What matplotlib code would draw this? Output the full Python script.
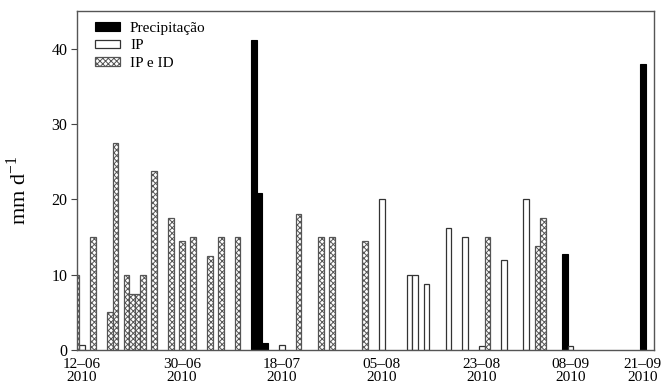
import matplotlib
matplotlib.use("Agg")
import matplotlib.pyplot as plt
import matplotlib.dates as mdates
import pandas as pd

# Data (dates in 2010, values in mm/d)
precip_dates = ["2010-07-13", "2010-07-14", "2010-07-15", "2010-09-07", "2010-09-21"]
precip_vals = [41.2, 20.9, 0.9, 12.8, 38.0]

ip_dates = ["2010-06-12", "2010-07-18", "2010-08-05", "2010-08-10", "2010-08-11",
            "2010-08-13", "2010-08-17", "2010-08-20", "2010-08-23", "2010-08-27",
            "2010-08-31", "2010-09-08"]
ip_vals = [0.6, 0.7, 20.0, 10.0, 10.0, 8.8, 16.2, 15.0, 0.5, 12.0, 20.0, 0.5]

ipid_dates = ["2010-06-11", "2010-06-14", "2010-06-17", "2010-06-18", "2010-06-20",
              "2010-06-21", "2010-06-22", "2010-06-23", "2010-06-25", "2010-06-28",
              "2010-06-30", "2010-07-02", "2010-07-05", "2010-07-07", "2010-07-10",
              "2010-07-21", "2010-07-25", "2010-07-27", "2010-08-02", "2010-08-24",
              "2010-09-02", "2010-09-03"]
ipid_vals = [10.0, 15.0, 5.0, 27.5, 10.0, 7.5, 7.5, 10.0, 23.8, 17.5,
             14.5, 15.0, 12.5, 15.0, 15.0, 18.0, 15.0, 15.0, 14.5, 15.0,
             13.8, 17.5]

tick_dates = ["2010-06-12", "2010-06-30", "2010-07-18", "2010-08-05",
              "2010-08-23", "2010-09-08", "2010-09-21"]
tick_labels = ["12\u201306\n2010", "30\u201306\n2010", "18\u201307\n2010",
               "05\u201308\n2010", "23\u201308\n2010", "08\u201309\n2010",
               "21\u201309\n2010"]

plt.rcParams['font.family'] = ['Liberation Serif', 'DejaVu Serif']
plt.rcParams['mathtext.fontset'] = 'custom'
plt.rcParams['mathtext.rm'] = 'Liberation Serif'
plt.rcParams['hatch.linewidth'] = 0.7

def d2n(lst):
    return mdates.date2num(pd.to_datetime(lst))

fig = plt.figure(figsize=(6.63, 3.87), dpi=100)
ax = fig.add_axes([77/663, 1-350/387, (654-77)/663, (350-11)/387])

w = 1.0
edge = '#333333'
ax.bar(d2n(precip_dates), precip_vals, width=w, color='black', edgecolor='black',
       linewidth=0.8, label='Precipita\u00e7\u00e3o')
ax.bar(d2n(ip_dates), ip_vals, width=w, color='white', edgecolor=edge,
       linewidth=0.9, label='IP')
ax.bar(d2n(ipid_dates), ipid_vals, width=w, color='white', edgecolor='#555555',
       hatch='xxxxxx', linewidth=0.9, label='IP e ID')

t0 = mdates.date2num(pd.Timestamp("2010-06-12"))
ax.set_xlim(t0 - 0.9, t0 + 103.0)
ax.set_ylim(0, 45)
ax.set_xticks(d2n(tick_dates))
ax.set_xticklabels(tick_labels, fontsize=11, linespacing=0.92)
ax.set_yticks([0, 10, 20, 30, 40])
ax.tick_params(axis='y', direction='out', length=4, labelsize=11.5, color='#444444', pad=3)
ax.tick_params(axis='x', length=0, pad=6)
for s in ax.spines.values():
    s.set_color('#555555')
    s.set_linewidth(1.0)

ax.set_ylabel(r'mm d$^{\mathregular{-1}}$', fontsize=16)
ax.yaxis.set_label_coords(-0.08, 0.47)

leg = ax.legend(loc='upper left', bbox_to_anchor=(0.015, 0.995), frameon=False,
                fontsize=11, handlelength=1.65, handleheight=0.5,
                labelspacing=0.3, handletextpad=0.65, borderaxespad=0.2)

fig.savefig('out.png', dpi=100)
